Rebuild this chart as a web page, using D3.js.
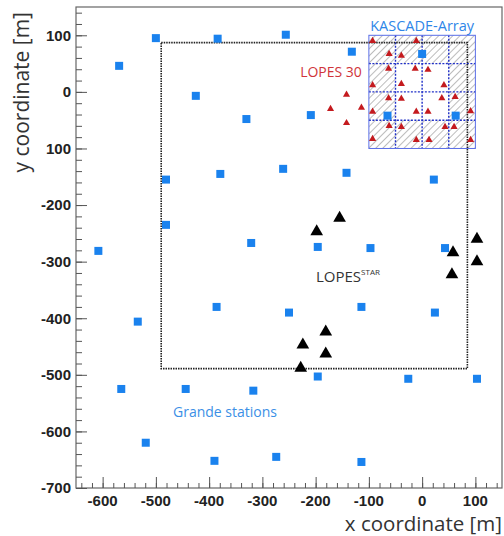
<!DOCTYPE html>
<html>
<head>
<meta charset="utf-8">
<script src="https://cdn.jsdelivr.net/npm/d3@7"></script>
<style>
  body { margin: 0; background: #fff; }
  svg text { font-family: "Open Sans", "Liberation Sans", sans-serif; }
</style>
</head>
<body>
<div id="chart"></div>
<script>
// Grande stations (blue squares), [x, y] in metres
const grandeStations = [
  [-500, 95], [-569, 46], [-384, 94], [-256, 101], [-132, 71],
  [-425, -7], [-330, -48], [-209, -41], [0, 67], [-65, -42], [63, -42],
  [-481, -155], [-379, -145], [-261, -136], [-142, -143], [22, -155],
  [-608, -281], [-481, -235], [-321, -267], [-196, -274], [-97, -276], [43, -276],
  [-534, -406], [-386, -380], [-250, -390], [-114, -380], [24, -390],
  [-565, -525], [-444, -525], [-317, -528], [-196, -503], [-26, -507], [103, -507],
  [-519, -620], [-390, -652], [-274, -645], [-114, -654]
];

// LOPES-STAR antennas (black triangles)
const lopesStar = [
  [-155, -223], [-198, -247], [103, -260], [58, -284], [103, -300], [56, -323],
  [-181, -424], [-224, -447], [-181, -463], [-228, -488]
];

// LOPES 30 antennas (red triangles)
const lopes30 = [
  [-93, 90], [-11, 90], [-62, 67], [-39, 64], [-63, 41], [-13, 41], [11, 39],
  [-93, 12], [-39, 14], [41, 12], [-63, -11], [-39, -12], [37, -11], [62, -9],
  [-93, -35], [-11, -35], [11, -35], [91, -34], [-114, -28], [-142, -5],
  [-142, -55], [-62, -60], [-39, -62], [43, -62], [60, -62],
  [-93, -83], [-11, -85], [13, -85], [91, -85], [-172, -30]
];

// KASCADE array: 4x4 cells of 50 m, inner 2x2 not hatched
const kascadeX = [-100, -50, 0, 50, 100];
const kascadeY = [100, 50, 0, -50, -100];
const kascadeHatched = [
  [1, 1, 1, 1],
  [1, 0, 0, 1],
  [1, 0, 0, 1],
  [1, 1, 1, 1]
];

// dashed LOPES-STAR region
const starRegion = { x0: -490, x1: 85, y0: -489, y1: 87 };

const xTicks = [-600, -500, -400, -300, -200, -100, 0, 100];
const yTicks = [100, 0, -100, -200, -300, -400, -500, -600, -700];
const yTickLabels = ["100", "0", "100", "-200", "-300", "-400", "-500", "-600", "-700"];

const W = 504, H = 536;
const plot = { left: 76, right: 502, top: 7, bottom: 488 };

const x = d3.scaleLinear().domain([-650, 150]).range([plot.left, plot.right]);
const y = d3.scaleLinear().domain([-700, 150]).range([plot.bottom, plot.top]);

const svg = d3.select("#chart").append("svg")
  .attr("width", W).attr("height", H);

const defs = svg.append("defs");
const pat = defs.append("pattern")
  .attr("id", "hatch")
  .attr("patternUnits", "userSpaceOnUse")
  .attr("width", 5).attr("height", 5)
  .attr("patternTransform", "rotate(45)");
pat.append("line")
  .attr("x1", 0).attr("y1", 0).attr("x2", 0).attr("y2", 5)
  .attr("stroke", "#7a7a7a").attr("stroke-width", 1);

// KASCADE cells
const cells = [];
kascadeHatched.forEach((row, r) => row.forEach((h, c) => {
  cells.push({ x0: kascadeX[c], x1: kascadeX[c + 1], y0: kascadeY[r], y1: kascadeY[r + 1], h });
}));
svg.append("g").selectAll("rect").data(cells.filter(d => d.h)).join("rect")
  .attr("x", d => x(d.x0))
  .attr("y", d => y(d.y0))
  .attr("width", d => x(d.x1) - x(d.x0))
  .attr("height", d => y(d.y1) - y(d.y0))
  .attr("fill", "url(#hatch)");

// inner dotted grid lines
const kg = svg.append("g");
kascadeX.slice(1, -1).forEach(v => {
  kg.append("line")
    .attr("x1", x(v)).attr("x2", x(v))
    .attr("y1", y(kascadeY[0])).attr("y2", y(kascadeY[4]))
    .attr("stroke", "#2030c8").attr("stroke-width", 1.4).attr("stroke-dasharray", "2,1.5");
});
kascadeY.slice(1, -1).forEach(v => {
  kg.append("line")
    .attr("x1", x(kascadeX[0])).attr("x2", x(kascadeX[4]))
    .attr("y1", y(v)).attr("y2", y(v))
    .attr("stroke", "#2030c8").attr("stroke-width", 1.4).attr("stroke-dasharray", "2,1.5");
});
kg.append("rect")
  .attr("x", x(kascadeX[0])).attr("y", y(kascadeY[0]))
  .attr("width", x(kascadeX[4]) - x(kascadeX[0]))
  .attr("height", y(kascadeY[4]) - y(kascadeY[0]))
  .attr("fill", "none").attr("stroke", "#5a6ee8").attr("stroke-width", 1);

// dashed region
svg.append("rect")
  .attr("x", x(starRegion.x0)).attr("y", y(starRegion.y1))
  .attr("width", x(starRegion.x1) - x(starRegion.x0))
  .attr("height", y(starRegion.y0) - y(starRegion.y1))
  .attr("fill", "none").attr("stroke", "#222")
  .attr("stroke-width", 1.6).attr("stroke-dasharray", "1.5,1");

// Grande stations
svg.append("g").selectAll("rect").data(grandeStations).join("rect")
  .attr("x", d => x(d[0]) - 4)
  .attr("y", d => y(d[1]) - 4)
  .attr("width", 8).attr("height", 8)
  .attr("fill", "#1a82ee");

// LOPES 30
svg.append("g").selectAll("path").data(lopes30).join("path")
  .attr("transform", d => `translate(${x(d[0])},${y(d[1])})`)
  .attr("d", d3.symbol(d3.symbolTriangle, 22))
  .attr("fill", "#c41a1e");

// LOPES STAR
svg.append("g").selectAll("path").data(lopesStar).join("path")
  .attr("transform", d => `translate(${x(d[0])},${y(d[1])})`)
  .attr("d", d3.symbol(d3.symbolTriangle, 70))
  .attr("fill", "#000");

// frame
svg.append("rect")
  .attr("x", plot.left).attr("y", plot.top)
  .attr("width", plot.right - plot.left).attr("height", plot.bottom - plot.top)
  .attr("fill", "none").attr("stroke", "#666").attr("stroke-width", 1.2);

// axes
const xAxis = svg.append("g").attr("transform", `translate(0,${plot.bottom})`);
xAxis.call(d3.axisTop(x).tickValues(d3.range(-640, 150, 20)).tickSize(5).tickFormat(""));
xAxis.call(g => g.append("g").call(d3.axisTop(x).tickValues(xTicks).tickSize(11).tickFormat("")));
xAxis.selectAll(".domain").remove();
xAxis.selectAll("line").attr("stroke", "#555");
xAxis.append("g").selectAll("text").data(xTicks).join("text")
  .attr("x", d => x(d)).attr("y", 18)
  .attr("text-anchor", "middle")
  .style("font-family", "Liberation Sans, Arial, sans-serif")
  .attr("font-weight", "bold").attr("font-size", 15).attr("fill", "#222")
  .text(d => d);

const yAxis = svg.append("g").attr("transform", `translate(${plot.left},0)`);
yAxis.call(d3.axisRight(y).tickValues(d3.range(-700, 151, 20)).tickSize(6).tickFormat(""));
yAxis.call(g => g.append("g").call(d3.axisRight(y).tickValues(yTicks).tickSize(11).tickFormat("")));
yAxis.selectAll(".domain").remove();
yAxis.selectAll("line").attr("stroke", "#555");
yAxis.append("g").selectAll("text").data(yTicks).join("text")
  .attr("x", -5).attr("y", d => y(d)).attr("dy", "0.36em")
  .attr("text-anchor", "end")
  .style("font-family", "Liberation Sans, Arial, sans-serif")
  .attr("font-weight", "bold").attr("font-size", 15).attr("fill", "#222")
  .text((d, i) => yTickLabels[i]);

// axis titles
svg.append("text")
  .attr("x", plot.right).attr("y", 531)
  .attr("text-anchor", "end").attr("font-size", 20.5).attr("fill", "#333")
  .text("x coordinate [m]");
svg.append("text")
  .attr("transform", `translate(29,${plot.top + 5}) rotate(-90)`)
  .attr("text-anchor", "end").attr("font-size", 21).attr("fill", "#333")
  .text("y coordinate [m]");

// labels
svg.append("text")
  .attr("x", x(0)).attr("y", 31)
  .attr("text-anchor", "middle").attr("font-size", 14.5).attr("fill", "#2e86e8")
  .text("KASCADE-Array");
svg.append("text")
  .attr("x", 331).attr("y", 77)
  .attr("text-anchor", "middle").attr("font-size", 14).attr("fill", "#d0343a")
  .text("LOPES 30");
const star = svg.append("text")
  .attr("x", 316).attr("y", 282)
  .attr("font-size", 15).attr("fill", "#333");
star.append("tspan").text("LOPES");
star.append("tspan").attr("font-size", 8).attr("dy", -7).text("STAR");
svg.append("text")
  .attr("x", 173).attr("y", 417)
  .attr("font-size", 14).attr("fill", "#3b8fe6")
  .text("Grande stations");
</script>
</body>
</html>
